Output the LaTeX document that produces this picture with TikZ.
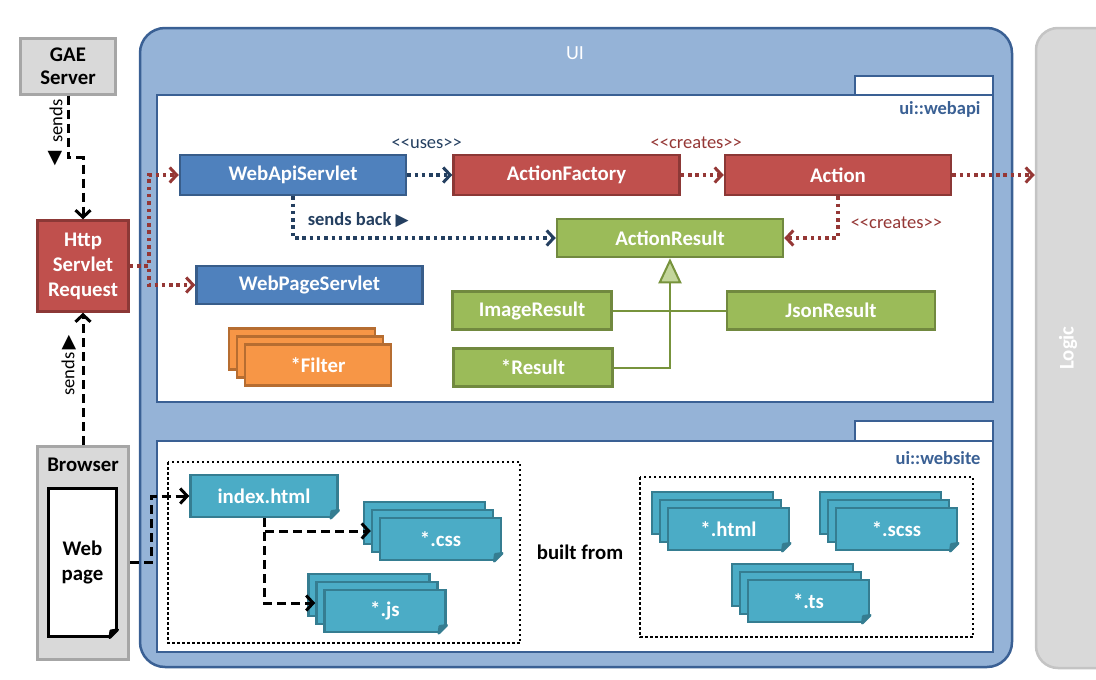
\documentclass[tikz,border=0pt]{standalone}
\usepackage{fontspec}
\setmainfont{Carlito}[Ligatures=TeXOff]
\newfontfamily\symfont{DejaVu Sans}
\usetikzlibrary{arrows.meta,positioning,calc}

\definecolor{uifill}{HTML}{95B3D7}
\definecolor{uiline}{HTML}{3A6094}
\definecolor{bluefill}{HTML}{4F81BD}
\definecolor{blueline}{HTML}{385D8A}
\definecolor{redfill}{HTML}{C0504D}
\definecolor{redline}{HTML}{8C3836}
\definecolor{greenfill}{HTML}{9BBB59}
\definecolor{greenline}{HTML}{71893F}
\definecolor{orangefill}{HTML}{F79646}
\definecolor{orangeline}{HTML}{B66D31}
\definecolor{tealfill}{HTML}{4BACC6}
\definecolor{tealline}{HTML}{357D91}
\definecolor{grayfill}{HTML}{D9D9D9}
\definecolor{grayline}{HTML}{A6A6A6}
\definecolor{logicline}{HTML}{C4C4C4}
\definecolor{navy}{HTML}{243F60}
\definecolor{darkred}{HTML}{953735}
\definecolor{trifill}{HTML}{C3D69B}
\definecolor{genline}{HTML}{77933C}

\newcommand{\clsfont}{\fontsize{20.8}{25}\selectfont\bfseries}
\newcommand{\lblfont}{\fontsize{18.5}{22}\selectfont}

\tikzset{cls/.style args = {(#1,#2)}{%
		draw=#1line, fill=#1fill, minimum width=#2, minimum height=40pt,
		line width=2.5pt, text=white, font=\clsfont, inner sep=2pt}}
\tikzset{file/.style = {cls={(teal,121pt)}, minimum height=42pt}}

% three shifted copies, the front one named #1
\newcommand{\filestack}[4]{%
	\node[#2] (#1-1) at ($(#3)+(-16,-16)$) {};
	\node[#2] (#1-2) at ($(#3)+(-8,-8)$) {};
	\node[#2] (#1) at (#3) {#4};
}
% folded corner: #1 node, #2 line colour, #3 colour behind
\newcommand{\foldcorner}[3]{%
	\fill[#3] ($(#1.south east)+(-9,2)$) -- ($(#1.south east)+(2,2)$) -- ($(#1.south east)+(2,-9)$) -- cycle;
	\filldraw[#2, line width=2.5pt, line join=round] ($(#1.south east)+(-8,0)$) -- ($(#1.south east)+(0,-8)$)
	-- ($(#1.south east)+(-7,-7)$) -- cycle;
}

\begin{document}
\begin{tikzpicture}[x=1pt, y=-1pt,
	dotarrow/.style={line width=3.5pt, dash pattern=on 3.5pt off 3.8pt,
		-{Straight Barb[length=7pt,width=15pt,line width=3pt]}},
	dasharrow/.style={black, line width=3pt, dash pattern=on 9pt off 5pt,
		-{Straight Barb[length=7pt,width=15pt,line width=3pt]}},
	pkg/.style={draw=uiline, fill=white, line width=2.5pt},
	group/.style={black, line width=2.5pt, dash pattern=on 2.5pt off 2.5pt},
	lbl/.style={font=\lblfont, inner sep=1pt},
	tri/.style={font=\symfont\fontsize{19}{19}\selectfont, inner sep=0},
	plain/.style={draw=grayline, fill=grayfill, line width=3pt, text=black, font=\clsfont, align=center}
	]
	\useasboundingbox (0,0) rectangle (1096,680);

	% layers
	\draw[uiline, fill=uifill, line width=2.5pt, rounded corners=25pt] (140,28) rectangle (1012,667);
	\node[text=white, font=\fontsize{20}{24}\selectfont] at (575,53) {UI};
	\node[draw=logicline, fill=grayfill, line width=2.5pt, rounded corners=22pt,
		minimum width=84pt, minimum height=640pt] (logic) at (1078,348) {};
	\node[rotate=90, text=white, font=\clsfont] at (1068,348) {Logic};

	% packages
	\draw[pkg] (855,76) rectangle (993,95);
	\draw[pkg] (157,95) rectangle (993,402);
	\node[anchor=east, text=uiline, font=\fontsize{18.5}{22}\selectfont\bfseries] at (984,109) {ui::webapi};
	\draw[pkg] (855,421) rectangle (993,441);
	\draw[pkg] (157,441) rectangle (993,652);
	\node[anchor=east, text=uiline, font=\fontsize{18.5}{22}\selectfont\bfseries] at (984,458) {ui::website};

	% outside
	\node[plain, minimum width=95pt, minimum height=56pt, inner sep=1pt] (gae) at (68,66) {GAE\\[-2pt]Server};
	\node[cls={(red,91pt)}, minimum height=91pt, align=center] (http) at (83,266) {Http\\Servlet\\Request};
	\node[plain, minimum width=91pt, minimum height=213pt] (browser) at (83,553) {};
	\node[font=\clsfont, below=9pt of browser.north] {Browser};
	\node[draw=black, fill=white, line width=2.5pt, minimum width=68pt, minimum height=148pt,
		font=\clsfont, align=center] (doc) at (82.5,562.5) {Web\\page};
	\foldcorner{doc}{black}{grayfill}

	% ui::webapi
	\node[cls={(blue,226pt)}] (webapi) at (293,175) {WebApiServlet};
	\node[cls={(red,226pt)}, right=45pt of webapi] (factory) {ActionFactory};
	\node[cls={(red,226pt)}, right=43pt of factory] (action) {Action};
	\node[cls={(green,226pt)}, minimum height=38pt] (result) at (670,238) {ActionResult};
	\node[cls={(blue,226pt)}, minimum height=38pt] (webpage) at (309.5,285) {WebPageServlet};
	\node[cls={(green,159pt)}, minimum height=38pt] (image) at (532,310.5) {ImageResult};
	\node[cls={(green,208pt)}, minimum height=38pt] (json) at (831,310.5) {JsonResult};
	\node[cls={(green,159pt)}, minimum height=38pt] (anyresult) at (533,367.5) {*Result};
	\filestack{filter}{cls={(orange,146pt)}, minimum height=41pt}{318,365}{*Filter}

	% ui::website
	\draw[group] (168,462) rectangle (520,643);
	\draw[group] (640,477) rectangle (973,637);
	\node[file, minimum width=147pt] (index) at (264,496) {index.html};
	\filestack{css}{file}{440.5,539}{*.css}
	\filestack{js}{file}{385,611}{*.js}
	\filestack{html}{file}{728.5,529}{*.html}
	\filestack{scss}{file}{896.5,529}{*.scss}
	\filestack{ts}{file}{808.5,601}{*.ts}
	\foreach \n in {index,css,js,html,scss,ts}{\foldcorner{\n}{tealline}{white}}
	\node[font=\clsfont] at (580,552) {built from};

	% connectors
	\draw[dasharrow] (gae.south) -- ++(0,62) -| (http.north);
	\node[lbl, rotate=90] at (56,121) {sends};
	\node[tri] at (55,159) {▼};
	\draw[dasharrow] (browser.north) -- (http.south);
	\node[lbl, rotate=90] at (68,374) {sends};
	\node[tri] at (69,343) {▲};
	\draw[dasharrow] (doc.east -| browser.east) -- ++(21,0) |- (index.west);
	\draw[dasharrow] (index.south) |- (css-2.west);
	\draw[dasharrow] (index.south) |- (js-2.west);

	\draw[dotarrow, darkred] (http.east) -- ++(19,0) |- (webapi.west);
	\draw[dotarrow, darkred] (http.east) -- ++(19,0) |- (webpage.west);
	\draw[dotarrow, navy] (webapi) -- node[lbl, above=24pt, xshift=-3pt]{<<uses>>} (factory);
	\draw[dotarrow, darkred] (factory) -- node[lbl, above=24pt, xshift=-6pt]{<<creates>>} (action);
	\draw[dotarrow, darkred] (action.east) -- (action.east -| logic.west);
	\draw[dotarrow, darkred] (action.south) |- node[lbl, pos=0.32, right=10pt]{<<creates>>} (result.east);
	\draw[dotarrow, navy] (webapi.south) |- node[lbl, pos=0.28, right=12pt, text=navy, font=\lblfont\bfseries]
		{sends back {\symfont\fontsize{17}{17}\selectfont ▶}} (result.west);

	% inheritance
	\draw[genline, line width=2pt] (image.east) -- (json.west);
	\draw[genline, line width=2pt, -{Triangle[length=25pt,width=23pt,fill=trifill]}] (anyresult.east) -| (result.south);
\end{tikzpicture}
\end{document}
